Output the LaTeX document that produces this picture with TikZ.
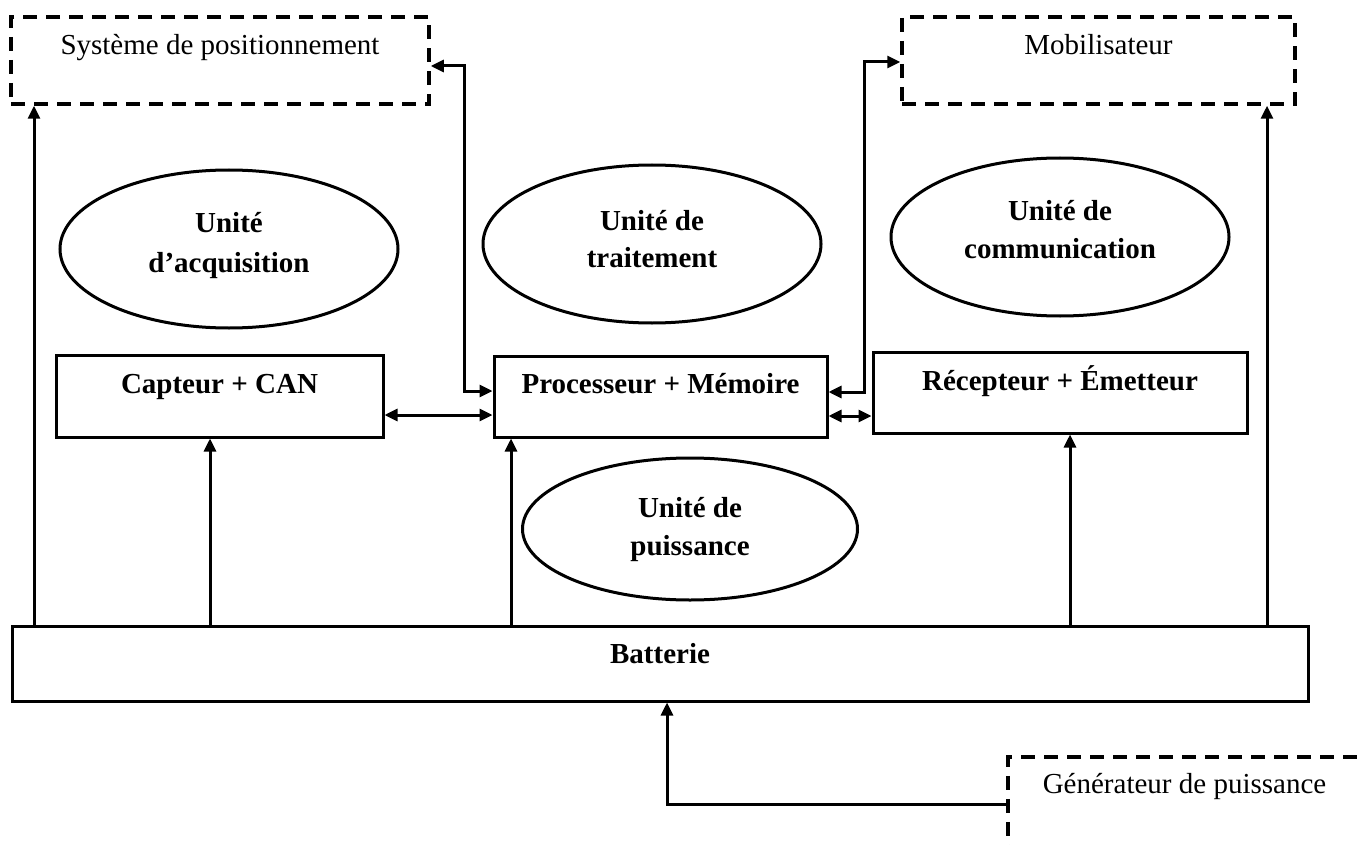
\documentclass[tikz,border=0pt]{standalone}
\usepackage{fontspec}
\setmainfont{Liberation Serif}
\usetikzlibrary{arrows.meta,shapes.geometric}
\begin{document}
\begin{tikzpicture}[x=1pt,y=-1pt,
  box/.style={draw, line width=3pt, rectangle, inner sep=0pt},
  dbox/.style={draw, line width=3.5pt, dash pattern=on 14pt off 9pt, rectangle, inner sep=0pt},
  uell/.style={draw, line width=3pt, ellipse, inner sep=0pt},
  conn/.style={line width=3pt, -{Triangle[length=13pt,width=12pt]}},
  dconn/.style={line width=3pt, {Triangle[length=13pt,width=12pt]}-{Triangle[length=13pt,width=12pt]}},
  rtxt/.style={font=\fontsize{29}{39}\selectfont, inner sep=0pt, anchor=base},
  btxt/.style={font=\fontsize{29}{39}\selectfont\bfseries, inner sep=0pt, anchor=base}]
\useasboundingbox (0,0) rectangle (1362,845);

% dashed external boxes
\node[dbox, minimum width=418pt, minimum height=87pt] (sys) at (220,60.5) {};
\node[rtxt] (tsys) at (220,55) {Système de positionnement};
\node[dbox, minimum width=393pt, minimum height=87pt] (mob) at (1098.5,60.5) {};
\node[rtxt] (tmob) at (1098.5,55) {Mobilisateur};
\begin{scope}
  \clip (0,0) rectangle (1362,845);
  \node[dbox, anchor=north west, minimum width=500pt, minimum height=200pt] (gen) at (1006,755) {};
\end{scope}
\node[rtxt] (tgen) at (1184.5,793) {Générateur de puissance};

% ellipses
\node[uell, minimum width=338pt, minimum height=158pt] (eacq) at (229,249) {};
\node[btxt] (tacq1) at (229,233) {Unité};
\node[btxt] (tacq2) at (229,272) {d’acquisition};
\node[uell, minimum width=338pt, minimum height=158pt] (etra) at (652,244) {};
\node[btxt] (ttra1) at (652,230) {Unité de};
\node[btxt] (ttra2) at (652,267) {traitement};
\node[uell, minimum width=338pt, minimum height=158pt] (ecom) at (1060,237) {};
\node[btxt] (tcom1) at (1060,220) {Unité de};
\node[btxt] (tcom2) at (1060,258) {communication};
\node[uell, minimum width=335pt, minimum height=142pt] (epui) at (690,529) {};
\node[btxt] (tpui1) at (690,517) {Unité de};
\node[btxt] (tpui2) at (690,555) {puissance};

% solid boxes
\node[box, minimum width=327pt, minimum height=82pt] (cap) at (219.5,396) {};
\node[btxt] (tcap) at (219.5,393) {Capteur + CAN};
\node[box, minimum width=333pt, minimum height=81pt] (proc) at (660.5,396.5) {};
\node[btxt] (tproc) at (660.5,393) {Processeur + Mémoire};
\node[box, minimum width=374pt, minimum height=81pt] (rec) at (1060,392.5) {};
\node[btxt] (trec) at (1060,390) {Récepteur + Émetteur};
\node[box, minimum width=1296pt, minimum height=75pt] (bat) at (660,663.5) {};
\node[btxt] (tbat) at (660,663) {Batterie};

% connectors from the battery
\draw[conn] (bat.north -| 34,0) -- (sys.south -| 34,0);
\draw[conn] (bat.north -| 210,0) -- (cap.south -| 210,0);
\draw[conn] (bat.north -| 511,0) -- (proc.south -| 511,0);
\draw[conn] (bat.north -| 1070,0) -- (rec.south -| 1070,0);
\draw[conn] (bat.north -| 1267,0) -- (mob.south -| 1267,0);

% double arrows
\draw[dconn] (cap.east |- 0,415) -- (proc.west |- 0,415);
\draw[dconn] (proc.east |- 0,416) -- (rec.west |- 0,416);
\draw[dconn] (proc.west |- 0,391) -| (464,66) -- (sys.east |- 0,66);
\draw[dconn] (proc.east |- 0,392) -| (864,62) -- (mob.west |- 0,62);

% generator to battery
\draw[conn] (gen.west |- 0,804) -| (bat.south -| 667,0);
\end{tikzpicture}
\end{document}
